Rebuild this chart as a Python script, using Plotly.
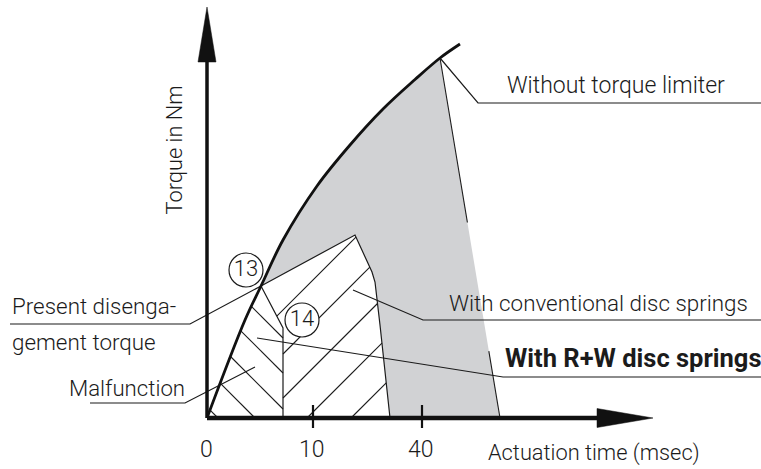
import plotly.graph_objects as go

# ---------------- schematic data (diagram units: time -> right, torque -> up) ----------------
# torque curve without torque limiter
curve_t = [0, 38, 54, 76, 110, 143, 176, 208, 233, 253]
curve_T = [0, 98, 132, 178, 232, 273, 309, 338.5, 360, 374]
IDX_13 = 2        # curve index of point (13): present disengagement torque
IDX_LIMIT = 8     # curve index where the "without limiter" drop starts

# conventional disc springs region boundary (from peak down to the time axis)
conv_right_t = [148, 165, 168, 173, 183]
conv_right_T = [183, 146, 136, 93, 0]
# R+W disc springs region boundary (from point 13 down to the time axis)
rw_edge_t = [54, 76, 76]
rw_edge_T = [132, 90, 0]
# end of the torque drop without limiter
nolimit_end = (293, 0)

# hatching offsets
rw_hatch_k = [156, 121, 85, 48, 11]          # lines t + T = k
conv_hatch_k = [32, -12, -56, -100, -144]    # lines T - t = k

# axes
axis_t_end = 446
axis_T_end = 411
tick_t = [0, 106, 215]
tick_labels = ["0", "10", "40"]

# numbered markers
marker_labels = ["13", "14"]
marker_t = [39, 95]
marker_T = [148, 98]

# leader lines (label -> feature)
leader_without = ([233, 271, 554], [360, 315, 315])
leader_conv = ([146, 216, 554], [128, 98, 98])
leader_rw = ([50, 296, 554], [80, 41, 41])
leader_present = ([-197, -17, 54], [94, 94, 132])
leader_malf = ([-117, -22, 48], [15, 15, 51])

FONT = "Roboto, Liberation Sans, Arial, sans-serif"
INK = "#1b1b1b"
GRAY = "#d1d2d4"


def clip_line(poly_t, poly_T, a, b, k):
    """Segments of line a*t + b*T = k inside polygon."""
    pts = []
    n = len(poly_t)
    for i in range(n):
        x1, y1 = poly_t[i], poly_T[i]
        x2, y2 = poly_t[(i + 1) % n], poly_T[(i + 1) % n]
        f1 = a * x1 + b * y1 - k
        f2 = a * x2 + b * y2 - k
        if (f1 < 0) != (f2 < 0):
            s = f1 / (f1 - f2)
            pts.append((x1 + s * (x2 - x1), y1 + s * (y2 - y1)))
    pts.sort()
    return [(pts[i], pts[i + 1]) for i in range(0, len(pts) - 1, 2)]


def segs_to_xy(segs):
    xs, ys = [], []
    for (p, q) in segs:
        xs += [p[0], q[0], None]
        ys += [p[1], q[1], None]
    return xs, ys


# polygons
rw_poly_t = curve_t[:IDX_13 + 1] + rw_edge_t[1:]
rw_poly_T = curve_T[:IDX_13 + 1] + rw_edge_T[1:]

conv_poly_t = [curve_t[IDX_13]] + conv_right_t + rw_edge_t[::-1][:-1]
conv_poly_T = [curve_T[IDX_13]] + conv_right_T + rw_edge_T[::-1][:-1]

gray_t = curve_t[IDX_13:IDX_LIMIT + 1] + [nolimit_end[0]] + conv_right_t[::-1] + [curve_t[IDX_13]]
gray_T = curve_T[IDX_13:IDX_LIMIT + 1] + [nolimit_end[1]] + conv_right_T[::-1] + [curve_T[IDX_13]]

fig = go.Figure()


def line(x, y, w=1.2, color=INK, shape="linear"):
    fig.add_trace(go.Scatter(x=x, y=y, mode="lines", line=dict(color=color, width=w, shape=shape),
                             hoverinfo="skip"))


# gray area (torque without limiter)
fig.add_trace(go.Scatter(x=gray_t, y=gray_T, fill="toself", fillcolor=GRAY, mode="none",
                         hoverinfo="skip"))

# hatching
hs = []
for k in rw_hatch_k:
    hs += clip_line(rw_poly_t, rw_poly_T, 1, 1, k)
for k in conv_hatch_k:
    hs += clip_line(conv_poly_t, conv_poly_T, -1, 1, k)
hx, hy = segs_to_xy(hs)
line(hx, hy, 1.1)

# outlines
line([curve_t[IDX_13]] + conv_right_t, [curve_T[IDX_13]] + conv_right_T, 1.2)
line(rw_edge_t, rw_edge_T, 1.2)

# drop edge without limiter (thin line, partly drawn)
x0, y0 = curve_t[IDX_LIMIT], curve_T[IDX_LIMIT]
x1, y1 = nolimit_end
for f0, f1 in [(0.0, 0.457), (0.814, 1.0)]:
    line([x0 + f0 * (x1 - x0), x0 + f1 * (x1 - x0)], [y0 + f0 * (y1 - y0), y0 + f1 * (y1 - y0)], 1.1)

# leader lines
for lx, ly in [leader_without, leader_conv, leader_rw, leader_present, leader_malf]:
    line(lx, ly, 1.2)

# torque curve
line(curve_t, curve_T, 2.8, "#111111", shape="spline")

# axes
line([0, 0], [0, axis_T_end - 40], 3.5, "#111111")
line([0, axis_t_end - 40], [0, 0], 4.5, "#111111")
fig.add_trace(go.Scatter(x=[-9, 0, 9, -9], y=[axis_T_end - 55, axis_T_end, axis_T_end - 55, axis_T_end - 55],
                         fill="toself", fillcolor="#111111", mode="lines", line=dict(width=0.5, color="#111111"),
                         hoverinfo="skip"))
fig.add_trace(go.Scatter(x=[axis_t_end - 56, axis_t_end, axis_t_end - 56, axis_t_end - 56], y=[9.5, 0, -9.5, 9.5],
                         fill="toself", fillcolor="#111111", mode="lines", line=dict(width=0.5, color="#111111"),
                         hoverinfo="skip"))
tx, ty = [], []
for t in tick_t[1:]:
    tx += [t, t, None]
    ty += [13, -10, None]
line(tx, ty, 2.2, "#111111")

# numbered circles
fig.add_trace(go.Scatter(x=marker_t, y=marker_T, mode="markers+text", text=marker_labels,
                         textposition="middle center",
                         textfont=dict(family=FONT, size=22, color=INK, weight=300),
                         marker=dict(size=34, color="white", line=dict(color=INK, width=1.2)),
                         hoverinfo="skip"))

annos = []


def txt(s, x, y, size=22, xa="left", bold=False, angle=0):
    annos.append(dict(x=x, y=y, xref="x", yref="y", text=s,
                      showarrow=False, xanchor=xa, yanchor="middle", textangle=angle,
                      font=dict(family=FONT, size=size, color=INK, weight=700 if bold else 300)))


txt("Without torque limiter", 298, 333, size=23)
txt("With conventional disc springs", 240, 115.5, size=22.4)
txt("With R+W disc springs", 296, 59.7, size=25.5, bold=True)
txt("Present disenga-", -197, 112, size=22.4)
txt("gement torque", -197, 76.5, size=22.4)
txt("Malfunction", -20, 30.5, size=22.2, xa="right")
txt("Actuation time (msec)", 279, -34.5, size=21.8)
txt("Torque in Nm", -33.5, 268, size=21.8, xa="center", angle=-90)
for t, lab in zip(tick_t, tick_labels):
    txt(lab, t - 1, -31, size=23, xa="center")

fig.update_layout(
    width=761, height=469, margin=dict(l=0, r=0, t=0, b=0),
    paper_bgcolor="white", plot_bgcolor="white", showlegend=False,
    xaxis=dict(range=[-207, 554], visible=False, fixedrange=True),
    yaxis=dict(range=[-51, 418], visible=False, fixedrange=True),
    annotations=annos,
)

fig.write_html("out.html", config={"displayModeBar": False},
               post_script="document.body.style.margin='0';document.body.style.overflow='hidden';")
